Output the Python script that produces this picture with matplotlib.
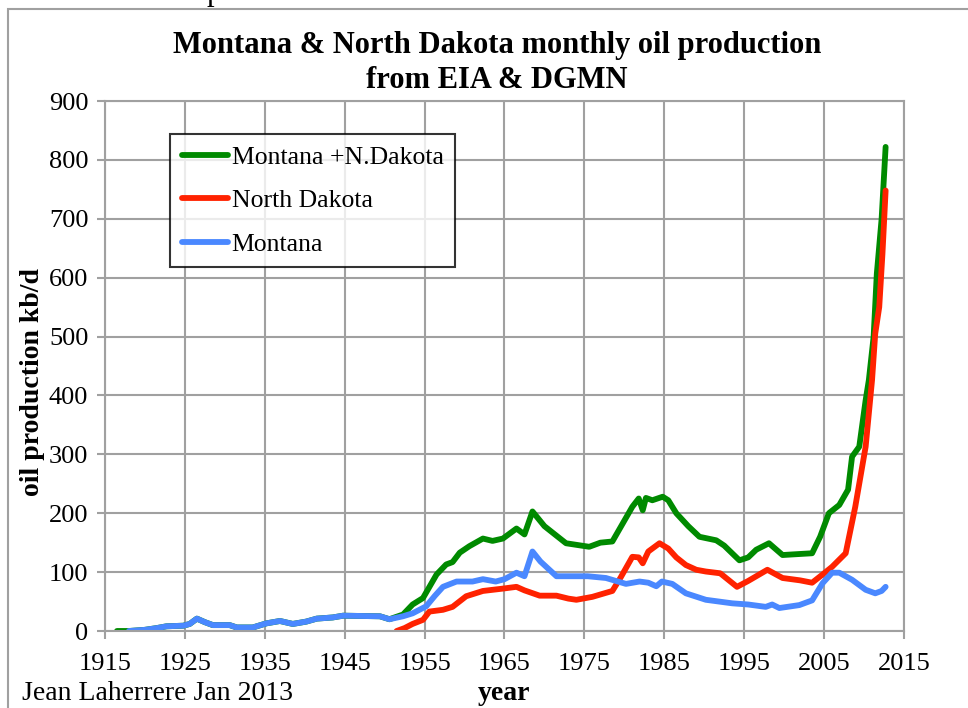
import matplotlib
matplotlib.use("Agg")
import matplotlib.pyplot as plt
from matplotlib.patches import Rectangle

# Montana (blue)
mt_years = [1918.0, 1920, 1921.5, 1922.7, 1924.8, 1925.6, 1926.5, 1927.5, 1928.5, 1930.6,
            1931.5, 1933.5, 1935.2, 1936.9, 1938.5, 1940.2, 1941.5, 1943.5, 1944.8, 1949.4,
            1950.6, 1952.3, 1953.5, 1955.2, 1956.3, 1957.3, 1959, 1961, 1962.3, 1963.9,
            1965, 1966.5, 1967.5, 1968.5, 1969.5, 1971.5, 1975.4, 1977.7, 1980.2, 1981.9,
            1983, 1984, 1984.7, 1986, 1987.7, 1990.2, 1993.5, 1995.5, 1997.7, 1998.5,
            1999.4, 2001.9, 2003.5, 2004.8, 2006, 2006.9, 2008.5, 2010.2, 2011.4, 2012.2, 2012.7]
mt_vals = [0, 2, 5, 8, 9, 12, 21, 15, 10, 10,
           6, 6, 13, 17, 12, 16, 21, 23, 26, 25,
           20, 25, 30, 42, 60, 75, 84, 84, 88, 84,
           88, 99, 93, 135, 118, 93, 93, 90, 80, 84,
           82, 76, 84, 80, 64, 53, 47, 45, 41, 45,
           39, 44, 52, 81, 99, 99, 87, 70, 64, 68, 75]

# North Dakota (red)
nd_years = [1951.5, 1952.5, 1953.5, 1954.8, 1955.6, 1957.3, 1958.5, 1960.2, 1962.3, 1964.8,
            1966.5, 1967.5, 1969.4, 1971.5, 1973, 1974, 1976, 1978.5, 1979.5, 1981,
            1981.8, 1982.3, 1983, 1984.4, 1985.5, 1986.5, 1987.7, 1989, 1990.2, 1992,
            1994.1, 1995.5, 1997.9, 1999.8, 2002, 2003.5, 2005, 2006, 2007.7, 2008.9,
            2010.2, 2011, 2011.4, 2011.9, 2012.3, 2012.7]
nd_vals = [0, 5, 12, 19, 33, 36, 41, 59, 68, 72,
           75, 69, 60, 60, 55, 53, 58, 68, 90, 126,
           125, 115, 135, 149, 140, 125, 112, 104, 101, 98,
           75, 85, 104, 90, 86, 82, 98, 109, 132, 211,
           313, 426, 505, 550, 640, 748]

# Montana + North Dakota (green)
tot_years = [1916.5, 1918.0, 1920, 1921.5, 1922.7, 1924.8, 1925.6, 1926.5, 1927.5, 1928.5,
             1930.6, 1931.5, 1933.5, 1935.2, 1936.9, 1938.5, 1940.2, 1941.5, 1943.5, 1944.8,
             1949.4, 1950.6, 1952.3, 1953.5, 1954.8, 1956.5, 1957.7, 1958.5, 1959.4, 1960.6,
             1962.3, 1963.5, 1964.8, 1966.5, 1967.5, 1968.5, 1970, 1972.7, 1975.6, 1977,
             1978.5, 1981, 1981.8, 1982.3, 1982.7, 1983.5, 1984.8, 1985.5, 1986.5, 1988,
             1989.4, 1991.5, 1992.5, 1994.4, 1995.5, 1996.5, 1998.1, 1999.8, 2001, 2003.5,
             2004.5, 2005.6, 2006.9, 2008, 2008.5, 2009.4, 2010.2, 2010.6, 2011.2, 2011.6,
             2012.2, 2012.7]
tot_vals = [0, 0, 2, 5, 8, 9, 12, 21, 15, 10,
            10, 6, 6, 13, 17, 12, 16, 21, 23, 26,
            25, 20, 28, 45, 56, 96, 113, 117, 133, 144,
            157, 153, 157, 174, 164, 203, 178, 149, 143, 150,
            152, 211, 225, 205, 226, 222, 228, 222, 200, 178,
            160, 154, 145, 120, 125, 138, 149, 129, 130, 132,
            160, 200, 214, 240, 296, 313, 392, 426, 500, 607,
            700, 822]

x_ticks = list(range(1915, 2016, 10))
y_ticks = list(range(0, 901, 100))

plt.rcParams['font.family'] = ['Liberation Serif', 'DejaVu Serif']

fig = plt.figure(figsize=(9.68, 7.08), dpi=100)
ax = fig.add_axes([105/968, 1 - 631/708, (904-105)/968, (631-101)/708])

grey = '#a0a0a0'
ax.plot(tot_years, tot_vals, color='#008a00', lw=4.2, label='Montana +N.Dakota',
        solid_capstyle='round', solid_joinstyle='round')
ax.plot(nd_years, nd_vals, color='#ff2200', lw=4.2, label='North Dakota',
        solid_capstyle='round', solid_joinstyle='round')
ax.plot(mt_years, mt_vals, color='#4a88ff', lw=4.2, label='Montana',
        solid_capstyle='round', solid_joinstyle='round')

ax.set_xlim(1915, 2015)
ax.set_ylim(0, 900)
ax.set_xticks(x_ticks)
ax.set_yticks(y_ticks)
ax.tick_params(labelsize=19, color=grey, width=1.5, length=6, pad=6)
ax.tick_params(axis='x', pad=10)
ax.grid(True, color=grey, lw=1.5)
ax.set_axisbelow(True)
for s in ax.spines.values():
    s.set_color(grey)
    s.set_linewidth(1.5)

ax.set_ylabel('oil production kb/d', fontsize=20, fontweight='bold', labelpad=2)
ax.yaxis.set_label_coords(-0.075, 0.47)
ax.set_xlabel('year', fontsize=20, fontweight='bold', labelpad=4)

leg = ax.legend(loc='upper left', bbox_to_anchor=(170/968, 1 - 134/708),
                bbox_transform=fig.transFigure, fontsize=18.5, frameon=True,
                fancybox=False, handlelength=1.8, handletextpad=0.15,
                labelspacing=0.8, borderpad=0.45, borderaxespad=0)
leg.get_frame().set_edgecolor('black')
leg.get_frame().set_linewidth(1.5)

fig.text(497/968, 1 - 45/708, 'Montana & North Dakota monthly oil production',
         ha='center', va='center', fontsize=22, fontweight='bold')
fig.text(497/968, 1 - 80/708, 'from EIA & DGMN',
         ha='center', va='center', fontsize=22, fontweight='bold')
fig.text(22/968, 1 - 693/708, 'Jean Laherrere Jan 2013', ha='left', va='center', fontsize=20)
fig.text(207/968, 1.0, 'p', ha='left', va='baseline', fontsize=22)

fig.patches.append(Rectangle((8/968, -0.1), 1.2, 1 - 9/708 + 0.1,
                             transform=fig.transFigure, fill=False,
                             edgecolor=grey, lw=1.5))

fig.savefig('out.png', dpi=100)
